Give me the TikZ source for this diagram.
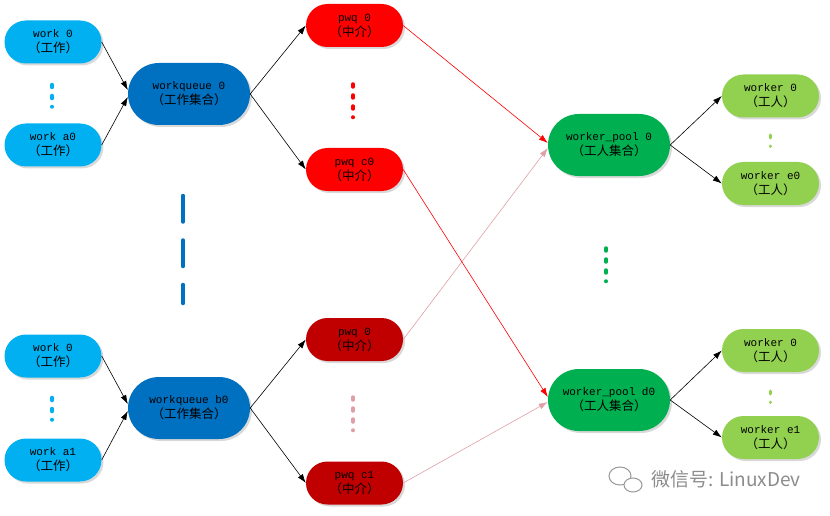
\documentclass[tikz,border=0pt]{standalone}
\usepackage{fontspec}
\setmonofont{Liberation Mono}
\newfontfamily\cjk{Noto Sans CJK SC}
\usetikzlibrary{arrows.meta,shapes.misc,shadows}
\definecolor{lb}{HTML}{00B0F0}
\definecolor{db}{HTML}{0070C0}
\definecolor{rd}{HTML}{FF0000}
\definecolor{drd}{HTML}{C00000}
\definecolor{gn}{HTML}{00B050}
\definecolor{lg}{HTML}{92D050}
\definecolor{pk}{RGB}{222,160,166}
\newcommand{\zh}[1]{{\cjk\fontsize{12.5}{15}\selectfont #1}}
\tikzset{
	pill/.style={rounded rectangle, draw=none, align=center, inner sep=0pt, font=\ttfamily\fontsize{11}{15}\selectfont, drop shadow={shadow xshift=2pt, shadow yshift=-2pt, opacity=0.3}},
	sm/.style={pill, minimum width=97pt, minimum height=43pt},
	bg/.style={pill, minimum width=122pt, minimum height=62pt},
	wk/.style={sm, fill=lb},
	wq/.style={bg, fill=db},
	pq/.style={sm, fill=rd},
	pqd/.style={sm, fill=drd},
	wp/.style={bg, fill=gn},
	wr/.style={sm, fill=lg},
	ar/.style={-{Latex[length=9pt,width=6pt]}, line width=0.6pt},
	rar/.style={ar, rd},
	par/.style={ar, pk},
	dts/.style={line width=3.5pt, line cap=round, dash pattern=on 3pt off 8pt},
}

\begin{document}
\begin{tikzpicture}[x=1pt,y=-1pt]
	\useasboundingbox (0,0) rectangle (830,516);

	\node[wk] (w0) at (53,42) {work 0\\\zh{（工作）}};
	\node[wk] (wa0) at (53,145) {work a0\\\zh{（工作）}};
	\node[wk] (w1) at (53,356) {work 0\\\zh{（工作）}};
	\node[wk] (wa1) at (53,460) {work a1\\\zh{（工作）}};

	\node[wq] (wq0) at (189,94) {workqueue 0\\\zh{（工作集合）}};
	\node[wq] (wqb0) at (189,408) {workqueue b0\\\zh{（工作集合）}};

	\node[pq] (pq0) at (354.5,25.5) {pwq 0\\\zh{（中介）}};
	\node[pq] (pqc0) at (354.5,169.5) {pwq c0\\\zh{（中介）}};
	\node[pqd] (pq1) at (354.5,339.5) {pwq 0\\\zh{（中介）}};
	\node[pqd] (pqc1) at (354.5,483) {pwq c1\\\zh{（中介）}};

	\node[wp] (wp0) at (609,145) {worker\_pool 0\\\zh{（工人集合）}};
	\node[wp] (wpd0) at (609,400) {worker\_pool d0\\\zh{（工人集合）}};

	\node[wr] (wk0) at (770.5,96) {worker 0\\\zh{（工人）}};
	\node[wr] (wke0) at (770.5,183.5) {worker e0\\\zh{（工人）}};
	\node[wr] (wk1) at (770.5,350.5) {worker 0\\\zh{（工人）}};
	\node[wr] (wke1) at (770.5,437.5) {worker e1\\\zh{（工人）}};

	\draw[dts, lb] (52,84.5) -- (52,107);
	\draw[dts, lb] (52,397.5) -- (52,420);
	\draw[dts, db, dash pattern=on 26.5pt off 18pt] (183,195.5) -- (183,303.5);
	\draw[dts, rd] (353,84) -- (353,117.5);
	\draw[dts, pk] (353,397) -- (353,430.5);
	\draw[dts, gn] (606,248) -- (606,281.5);
	\draw[dts, lg, line width=3pt] (770,135) -- (770,146.5);
	\draw[dts, lg, line width=3pt] (770,391) -- (770,402.5);

	\draw[ar] (w0.east) -- ([yshift=4pt]wq0.west);
	\draw[ar] (wa0.east) -- ([yshift=-3pt]wq0.west);
	\draw[ar] (w1.east) -- ([yshift=4pt]wqb0.west);
	\draw[ar] (wa1.east) -- ([yshift=-3pt]wqb0.west);

	\draw[ar] (wq0.east) -- (pq0.west);
	\draw[ar] (wq0.east) -- (pqc0.west);
	\draw[ar] (wqb0.east) -- (pq1.west);
	\draw[ar] (wqb0.east) -- (pqc1.west);

	\draw[rar] (pq0.east) -- ([yshift=2pt]wp0.west);
	\draw[par] (pq1.east) -- ([yshift=-3pt]wp0.west);
	\draw[rar] (pqc0.east) -- ([yshift=3pt]wpd0.west);
	\draw[par] (pqc1.east) -- ([yshift=-2pt]wpd0.west);

	\draw[ar] (wp0.east) -- (wk0.west);
	\draw[ar] (wp0.east) -- (wke0.west);
	\draw[ar] (wpd0.east) -- (wk1.west);
	\draw[ar] (wpd0.east) -- (wke1.west);

	\draw[black!40, line width=1pt] (620,476) ellipse [x radius=11, y radius=9];
	\filldraw[fill=white, draw=black!40, line width=1pt] (633,485) ellipse [x radius=9, y radius=7];
	\node[text=black!45, font=\cjk\fontsize{19}{19}\selectfont] (wm) at (726,479) {微信号: LinuxDev};
\end{tikzpicture}
\end{document}
